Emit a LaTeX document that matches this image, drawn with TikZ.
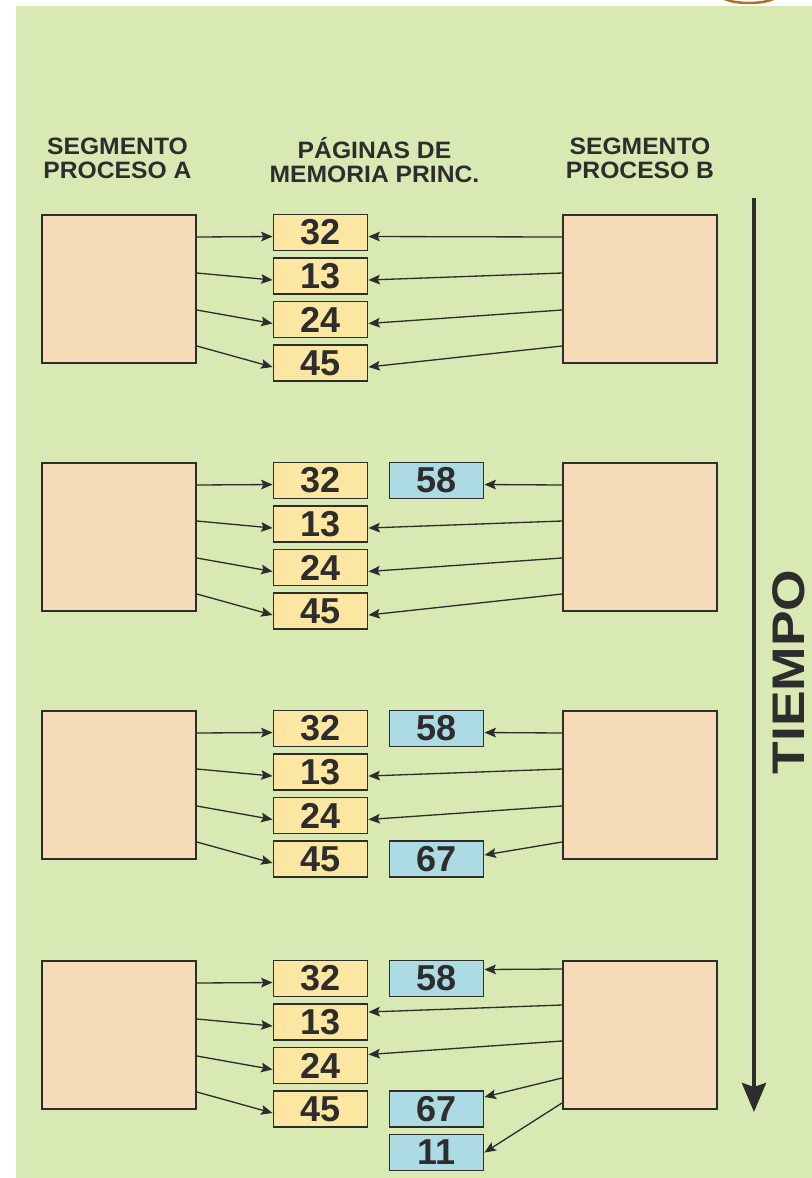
\documentclass[tikz,border=0pt]{standalone}
\usepackage{fontspec}
\setmainfont{Liberation Sans}
\newfontfamily\anchafont[FakeStretch=1.17]{Liberation Sans}
\newfontfamily\titfont[FakeStretch=1.04]{Liberation Sans}
\usetikzlibrary{arrows.meta,calc}
\definecolor{fondo}{RGB}{217,233,179}
\definecolor{segcol}{RGB}{246,219,184}
\definecolor{pagcol}{RGB}{251,231,161}
\definecolor{nuevacol}{RGB}{173,219,227}
\definecolor{tinta}{RGB}{45,45,45}
\definecolor{arco}{RGB}{176,112,40}
\begin{document}
\begin{tikzpicture}[x=0.02cm, y=-0.02cm,
  >={Stealth[length=6.5pt,width=5.5pt,inset=1.2pt]},
  every node/.style={font=\bfseries, text=tinta},
  segbox/.style={draw=tinta, line width=1.1pt, fill=segcol, minimum width=3.08cm, minimum height=2.96cm, anchor=north west, inner sep=0pt},
  pagbox/.style={draw=tinta, line width=1.1pt, fill=pagcol, minimum width=1.88cm, minimum height=0.72cm, inner sep=0pt, font=\fontsize{20.5}{20.5}\bfseries},
  nuevabox/.style={pagbox, fill=nuevacol},
  titulo/.style={align=center, font=\titfont\fontsize{13.5}{13.5}\bfseries},
  ptr/.style={->, draw=tinta, line width=0.75pt}]
  \useasboundingbox (0,0) rectangle (812,1178);
  % Fondo
  \fill[fondo] (16,6) rectangle (812,1178);
  \begin{scope}
    \clip (0,0) rectangle (812,6);
    \draw[arco, line width=1.4pt] (749,-5) ellipse [x radius=0.56cm, y radius=0.16cm];
  \end{scope}
  % Titulos
  \node[titulo] (hA) at (117.5,158) {SEGMENTO\\PROCESO A};
  \node[titulo] (hP) at (374.5,160) {PÁGINAS DE\\MEMORIA PRINC.};
  \node[titulo] (hB) at (640,158) {SEGMENTO\\PROCESO B};
  % Bloques: segmentos A y B con sus paginas
  \foreach \k/\t in {1/214,2/462,3/710,4/960}{
    \node[segbox] (A\k) at (41,\t) {};
    \node[segbox] (B\k) at (562,\t) {};
    \foreach \n [count=\i] in {32,13,24,45}{
      \pgfmathsetmacro\yc{\t+18.5+43.5*(\i-1)}
      \node[pagbox] (P\k-\i) at (320.5,\yc) {\n};
    }
    \foreach \i/\ys in {1/23,2/59,3/96,4/132}
      \draw[ptr] ($(A\k.north east)+(0,\ys)$) -- ($(P\k-\i.west)+(0,4)$);
  }
  % Paginas nuevas del proceso B
  \node[nuevabox] (N2-58) at (436.5,480.5) {58};
  \node[nuevabox] (N3-58) at (436.5,728.5) {58};
  \node[nuevabox] (N3-67) at (436.5,859) {67};
  \node[nuevabox] (N4-58) at (436.5,978.5) {58};
  \node[nuevabox] (N4-67) at (436.5,1109) {67};
  \node[nuevabox] (N4-11) at (436.5,1152.5) {11};
  % Punteros del proceso B
  \foreach \i/\ys in {1/23,2/59,3/96,4/132}
    \draw[ptr] ($(B1.north west)+(0,\ys)$) -- ($(P1-\i.east)+(0,4)$);
  \draw[ptr] ($(B2.north west)+(0,23)$) -- ($(N2-58.east)+(0,4)$);
  \draw[ptr] ($(B2.north west)+(0,59)$) -- ($(P2-2.east)+(0,4)$);
  \draw[ptr] ($(B2.north west)+(0,96)$) -- ($(P2-3.east)+(0,4)$);
  \draw[ptr] ($(B2.north west)+(0,132)$) -- ($(P2-4.east)+(0,4)$);
  \draw[ptr] ($(B3.north west)+(0,23)$) -- ($(N3-58.east)+(0,4)$);
  \draw[ptr] ($(B3.north west)+(0,59)$) -- ($(P3-2.east)+(0,4)$);
  \draw[ptr] ($(B3.north west)+(0,96)$) -- ($(P3-3.east)+(0,4)$);
  \draw[ptr] ($(B3.north west)+(0,132)$) -- ($(N3-67.east)+(0,-4)$);
  \draw[ptr] ($(B4.north west)+(0,9)$) -- ($(N4-58.east)+(0,-9)$);
  \draw[ptr] ($(B4.north west)+(0,45)$) -- ($(P4-2.east)+(0,-10)$);
  \draw[ptr] ($(B4.north west)+(0,81)$) -- ($(P4-3.east)+(0,-11)$);
  \draw[ptr] ($(B4.north west)+(0,118)$) -- ($(N4-67.east)+(0,-12)$);
  \draw[ptr] ($(B4.north west)+(0,143)$) -- (N4-11.east);
  % Eje del tiempo
  \coordinate (t0) at (754,198);
  \coordinate (t1) at (754,1112);
  \draw[tinta, line width=0.08cm, -{Stealth[length=0.58cm,width=0.48cm,inset=0.08cm]}] (t0) -- (t1);
  \node[rotate=90, inner sep=0pt, font=\anchafont\fontsize{26}{26}\bfseries] (tiempo) at (789,672) {TIEMPO};
\end{tikzpicture}
\end{document}
